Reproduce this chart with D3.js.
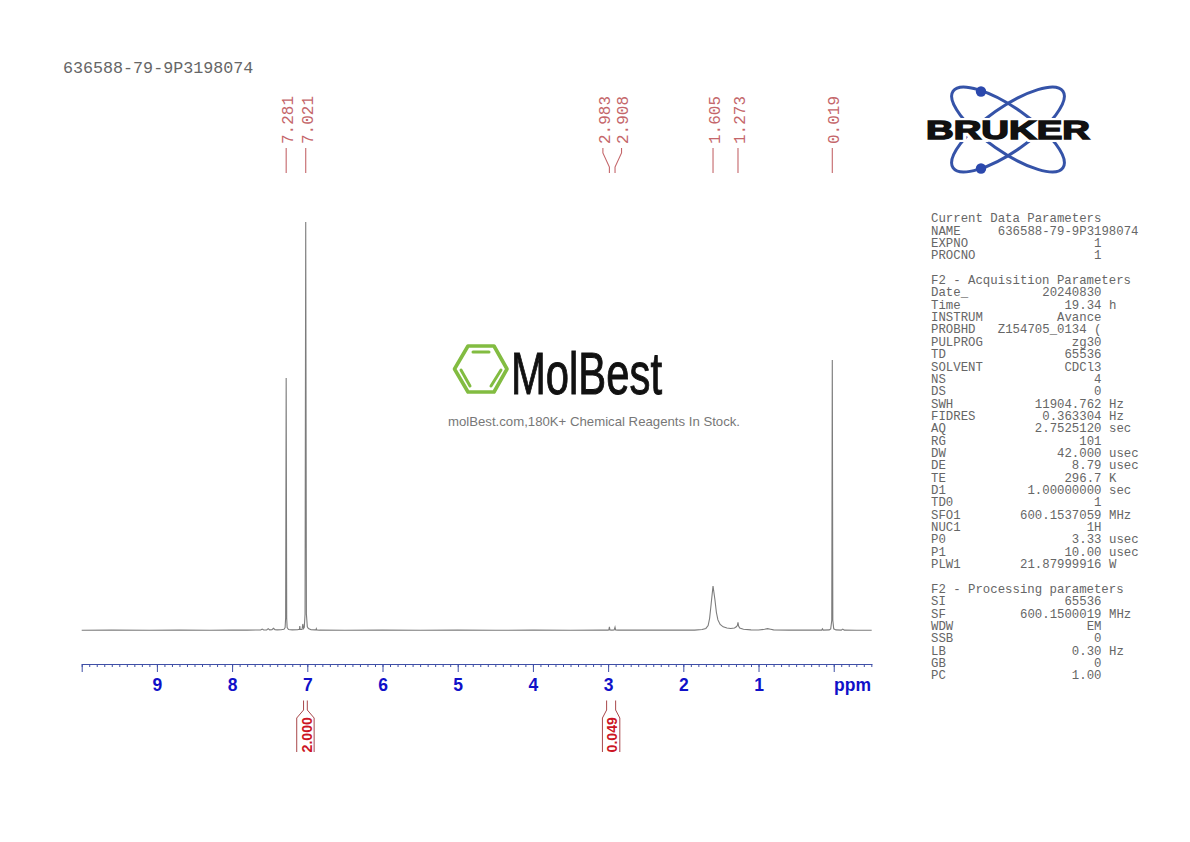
<!DOCTYPE html>
<html>
<head>
<meta charset="utf-8">
<script src="https://cdn.jsdelivr.net/npm/d3@7"></script>
<style>
  html, body { margin: 0; padding: 0; background: #fff; }
  svg { display: block; }
</style>
</head>
<body>
<div class="canva"></div>
<script>
// Spectrum: chemical shift (ppm) and relative intensity
const specPpm = [10.0, 9.6, 9.1, 8.7, 8.3, 8.0, 7.8, 7.62, 7.6, 7.58, 7.54, 7.52, 7.5, 7.47, 7.45, 7.43, 7.4, 7.35,
  7.31, 7.295, 7.288, 7.281, 7.274, 7.268, 7.25, 7.2, 7.13, 7.105, 7.1, 7.095, 7.07, 7.06, 7.05, 7.04, 7.03, 7.021, 7.012, 7.0, 6.985, 6.95, 6.9, 6.885, 6.88, 6.875, 6.84,
  6.5, 6.0, 5.5, 5.0, 4.5, 4.0, 3.5, 3.1, 3.0, 2.99, 2.983, 2.976, 2.95, 2.92, 2.908, 2.9, 2.87, 2.5, 2.2, 2.0, 1.85,
  1.75, 1.7, 1.67, 1.65, 1.63, 1.605, 1.58, 1.56, 1.54, 1.51, 1.47, 1.42, 1.37, 1.32, 1.295, 1.28, 1.273, 1.265, 1.25, 1.2, 1.1, 1.0,
  0.92, 0.88, 0.84, 0.8, 0.6, 0.3, 0.16, 0.15, 0.14, 0.06, 0.04, 0.026, 0.019, 0.012, 0.0, -0.03, -0.1, -0.12, -0.14, -0.3, -0.505];
const specInt = [0.05, 0.08, 0.05, 0.08, 0.05, 0.1, 0.1, 0.12, 0.35, 0.12, 0.15, 0.45, 0.15, 0.2, 0.55, 0.2, 0.15, 0.2,
  0.3, 0.7, 3.2, 61.8, 3.0, 0.7, 0.25, 0.15, 0.2, 0.3, 1.1, 0.3, 0.25, 1.6, 0.5, 0.8, 4.0, 100, 4.0, 0.9, 0.5, 0.2, 0.15, 0.2, 0.45, 0.15, 0.08,
  0.05, 0.08, 0.05, 0.08, 0.05, 0.08, 0.05, 0.08, 0.1, 0.15, 0.9, 0.15, 0.1, 0.12, 0.8, 0.12, 0.08, 0.08, 0.08, 0.08, 0.1,
  0.25, 0.5, 1.2, 3.0, 6.5, 10.9, 7.6, 4.4, 2.6, 1.5, 0.9, 0.6, 0.5, 0.6, 0.9, 1.3, 2.0, 1.1, 0.6, 0.3, 0.15, 0.12,
  0.3, 0.45, 0.3, 0.15, 0.08, 0.08, 0.1, 0.4, 0.1, 0.15, 0.4, 2.5, 66.2, 2.5, 0.4, 0.15, 0.1, 0.35, 0.1, 0.05, 0.05];

// Peak picking labels
const peakLabels = ["7.281", "7.021", "2.983", "2.908", "1.605", "1.273", "0.019"];

// Axis ticks
const majorTicks = [9, 8, 7, 6, 5, 4, 3, 2, 1, 0];
const tickNames = ["9", "8", "7", "6", "5", "4", "3", "2", "1", ""];

// Integrals: ppm limits and value
const integralFrom = [7.05, 3.02];
const integralTo = [7.0, 2.9];
const integralValues = ["2.000", "0.049"];

// Parameter block, one row per printed line
const paramNames = ["Current Data Parameters", "NAME", "EXPNO", "PROCNO", "",
  "F2 - Acquisition Parameters", "Date_", "Time", "INSTRUM", "PROBHD", "PULPROG", "TD", "SOLVENT", "NS", "DS", "SWH", "FIDRES", "AQ", "RG", "DW", "DE", "TE", "D1", "TD0", "SFO1", "NUC1", "P0", "P1", "PLW1", "",
  "F2 - Processing parameters", "SI", "SF", "WDW", "SSB", "LB", "GB", "PC"];
const paramValues = ["", "636588-79-9P3198074", "1", "1", "",
  "", "20240830", "19.34", "Avance", "Z154705_0134 (", "zg30", "65536", "CDCl3", "4", "0", "11904.762", "0.363304", "2.7525120", "101", "42.000", "8.79", "296.7", "1.00000000", "1", "600.1537059", "1H", "3.33", "10.00", "21.87999916", "",
  "", "65536", "600.1500019", "EM", "0", "0.30", "0", "1.00"];
const paramUnits = ["", "", "", "", "",
  "", "", "h", "", "", "", "", "", "", "", "Hz", "Hz", "sec", "", "usec", "usec", "K", "sec", "", "MHz", "", "usec", "usec", "W", "",
  "", "", "MHz", "", "", "Hz", "", ""];

const mono = "'Liberation Mono', monospace";
const sans = "'Liberation Sans', Arial, sans-serif";

const svg = d3.select(".canva").append("svg")
    .attr("width", 1190)
    .attr("height", 842);

// Scales
const x = d3.scaleLinear().domain([10, -0.505]).range([81.7, 871.7]);
const y = d3.scaleLinear().domain([0, 100]).range([630.5, 222]);

// Title
svg.append("text")
    .attr("x", 63)
    .attr("y", 73)
    .attr("font-family", mono)
    .attr("font-size", 16.7)
    .attr("fill", "#666")
    .text("636588-79-9P3198074");

// Spectrum
const spectrum = d3.line()
    .x((d, i) => x(specPpm[i]))
    .y(d => y(d));

svg.append("path")
    .datum(specInt)
    .attr("d", spectrum)
    .attr("fill", "none")
    .attr("stroke", "#7c7c7c")
    .attr("stroke-width", 1.1);

// Peak labels with leader lines. Close neighbours get pushed apart.
const labelX = peakLabels.map(d => {
    const px = x(+d);
    if (d === "2.983") return px - 6.5;
    if (d === "2.908") return px + 6.5;
    return px;
});

const peakGroup = svg.append("g").attr("fill", "none").attr("stroke", "#c4666a").attr("stroke-width", 1.1);
peakGroup.selectAll("path")
    .data(peakLabels)
    .enter()
    .append("path")
    .attr("d", (d, i) => d3.line()([[labelX[i], 148], [labelX[i], 153], [x(+d), 167], [x(+d), 173]]));

svg.selectAll(".peak-label")
    .data(peakLabels)
    .enter()
    .append("text")
    .attr("class", "peak-label")
    .attr("transform", (d, i) => `translate(${labelX[i] + 6.8}, 144) rotate(-90)`)
    .attr("font-family", mono)
    .attr("font-size", 16)
    .attr("fill", "#c4666a")
    .text(d => d);

// Axis: minor ticks first, then the labelled ones
const axisColor = "#3f4fa6";
const minorTicks = d3.range(-5, 101).map(d => d / 10);

const minorAxis = svg.append("g")
    .attr("transform", "translate(0, 664)")
    .call(d3.axisBottom(x).tickValues(minorTicks).tickSize(3).tickFormat("").tickSizeOuter(0));
minorAxis.selectAll("line").attr("stroke", axisColor);
minorAxis.select(".domain").attr("stroke", axisColor);

const majorAxis = svg.append("g")
    .attr("transform", "translate(0, 664)")
    .call(d3.axisBottom(x)
        .tickValues(majorTicks.concat([10]))
        .tickSize(8)
        .tickSizeOuter(0)
        .tickPadding(7)
        .tickFormat(d => tickNames[majorTicks.indexOf(d)] || ""));
majorAxis.select(".domain").attr("stroke", axisColor);
majorAxis.selectAll("line").attr("stroke", axisColor);
majorAxis.selectAll("text")
    .attr("font-family", sans)
    .attr("font-size", 17.5)
    .attr("font-weight", "bold")
    .attr("fill", "#1010c8");

svg.append("text")
    .attr("x", 871)
    .attr("y", 691)
    .attr("text-anchor", "end")
    .attr("font-family", sans)
    .attr("font-size", 17.5)
    .attr("font-weight", "bold")
    .attr("fill", "#1010c8")
    .text("ppm");

// Integrals: the box around the value always has the same width
integralValues.forEach((val, i) => {
    const x0 = x(integralFrom[i]);
    const x1 = x(integralTo[i]);
    const mid = (x0 + x1) / 2;
    const outline = d3.line();
    [[x0, mid - 8.7], [x1, mid + 8.7]].forEach(([px, boxX]) => {
        svg.append("path")
            .attr("d", outline([[px, 700.5], [px, 710], [boxX, 718], [boxX, 752]]))
            .attr("fill", "none")
            .attr("stroke", "#a8474a")
            .attr("stroke-width", 1);
    });
    svg.append("text")
        .attr("transform", `translate(${mid + 6.2}, 752.5) rotate(-90)`)
        .attr("font-family", sans)
        .attr("font-size", 14.2)
        .attr("font-weight", "bold")
        .attr("fill", "#cc1524")
        .text(val);
});

// Parameter block
const rowY = i => 222.3 + i * 12.35;
const params = svg.append("g")
    .attr("font-family", mono)
    .attr("font-size", 12.35)
    .attr("fill", "#666");

paramNames.forEach((name, i) => {
    params.append("text").attr("x", 931).attr("y", rowY(i)).text(name);
    params.append("text")
        .attr("x", name === "NAME" ? 1138.5 : 1101.5)
        .attr("y", rowY(i))
        .attr("text-anchor", "end")
        .text(paramValues[i]);
    params.append("text").attr("x", 1109).attr("y", rowY(i)).text(paramUnits[i]);
});

// Bruker logo
const bruker = svg.append("g").attr("transform", "translate(1008, 129.5)");
[35, -35].forEach(angle => {
    bruker.append("ellipse")
        .attr("rx", 67)
        .attr("ry", 22)
        .attr("transform", `rotate(${angle})`)
        .attr("fill", "none")
        .attr("stroke", "#3553a8")
        .attr("stroke-width", 3);
});
[-38, 39].forEach(dy => {
    bruker.append("circle").attr("cx", -27).attr("cy", dy).attr("r", 5.2).attr("fill", "#2b48ad");
});
// white halo keeps the orbits off the letters
[["#fff", 6], ["#111", 1.4]].forEach(([color, width]) => {
    bruker.append("text")
        .attr("x", -82)
        .attr("y", 9.5)
        .attr("textLength", 164)
        .attr("lengthAdjust", "spacingAndGlyphs")
        .attr("font-family", sans)
        .attr("font-size", 26)
        .attr("font-weight", "bold")
        .attr("fill", "#111")
        .attr("stroke", color)
        .attr("stroke-width", width)
        .attr("paint-order", "stroke")
        .text("BRUKER");
});

// MolBest watermark
const hexagon = [[454.5, 369], [468, 346], [494, 346], [507, 369], [494, 392], [468, 392]];
svg.append("path")
    .attr("d", d3.line()(hexagon) + "Z")
    .attr("fill", "none")
    .attr("stroke", "#82bc41")
    .attr("stroke-width", 3.6)
    .attr("stroke-linejoin", "round");
[[[473, 352], [489, 352]], [[461, 370], [470, 386]], [[501, 370], [491, 386]]].forEach(seg => {
    svg.append("path")
        .attr("d", d3.line()(seg))
        .attr("stroke", "#82bc41")
        .attr("stroke-width", 3)
        .attr("stroke-linecap", "round");
});
svg.append("text")
    .attr("x", 511)
    .attr("y", 394)
    .attr("textLength", 151)
    .attr("lengthAdjust", "spacingAndGlyphs")
    .attr("font-family", sans)
    .attr("font-size", 60)
    .attr("fill", "#111")
    .attr("stroke", "#111")
    .attr("stroke-width", 1)
    .text("MolBest");
svg.append("text")
    .attr("x", 594)
    .attr("y", 426)
    .attr("text-anchor", "middle")
    .attr("font-family", sans)
    .attr("font-size", 13.2)
    .attr("fill", "#777")
    .text("molBest.com,180K+ Chemical Reagents In Stock.");
</script>
</body>
</html>
